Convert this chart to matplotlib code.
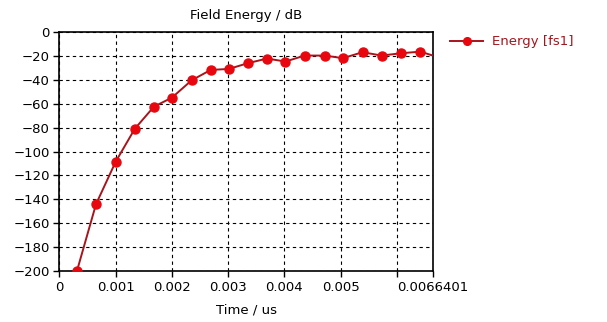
import numpy as np
import matplotlib.pyplot as plt

# field energy monitor, time in us, level in dB
time_us = [0.00031, 0.00065, 0.00100, 0.00134, 0.00168, 0.00200, 0.00235,
           0.00269, 0.00301, 0.00335, 0.00369, 0.00402, 0.00436, 0.00472,
           0.00504, 0.00539, 0.00573, 0.00607, 0.00642, 0.0066401]
energy_db = [-200, -144, -108.5, -81, -62.5, -55, -40.5,
             -31.8, -31, -26.2, -22.3, -24.8, -19.8, -19.8,
             -22, -17, -19.8, -17.9, -16.5, -19.8]

x_ticks = [0, 0.001, 0.002, 0.003, 0.004, 0.005, 0.006, 0.0066401]
x_tick_labels = ['0', '0.001', '0.002', '0.003', '0.004', '0.005', '', '0.0066401']
y_ticks = list(range(-200, 1, 20))

plt.rcParams['font.family'] = ['DejaVu Sans']
plt.rcParams['font.size'] = 9.5

fig = plt.figure(figsize=(6.07, 3.22), dpi=100)
ax = fig.add_axes([0.098, 0.158, 0.615, 0.743])

# last sample sits on the axis edge, so leave it without a marker
ax.plot(time_us, energy_db, color='#a8141c', lw=1.4, marker='o', ms=6.5,
        mfc='#e8070e', mec='#e8070e', markevery=slice(0, len(time_us) - 1),
        label='Energy [fs1]', zorder=3)

ax.set_xlim(0, 0.0066401)
ax.set_ylim(-200, 0)
ax.set_xticks(x_ticks)
ax.set_xticklabels(x_tick_labels)
ax.set_yticks(y_ticks)
ax.tick_params(direction='out', length=4, width=1, colors='black', pad=3)

ax.grid(True, color='black', linestyle=(0, (3, 3)), linewidth=0.8)
for s in ax.spines.values():
    s.set_linewidth(1.2)

ax.set_title('Field Energy / dB', fontsize=9.5, pad=9)
ax.set_xlabel('Time / us', fontsize=9.5, labelpad=7)

leg = ax.legend(loc='upper left', bbox_to_anchor=(1.015, 1.035), frameon=False,
                handlelength=2.5, handletextpad=0.7, fontsize=9.5, markerscale=0.85)
for t in leg.get_texts():
    t.set_color('#a8141c')

fig.savefig('out.png', dpi=100)
